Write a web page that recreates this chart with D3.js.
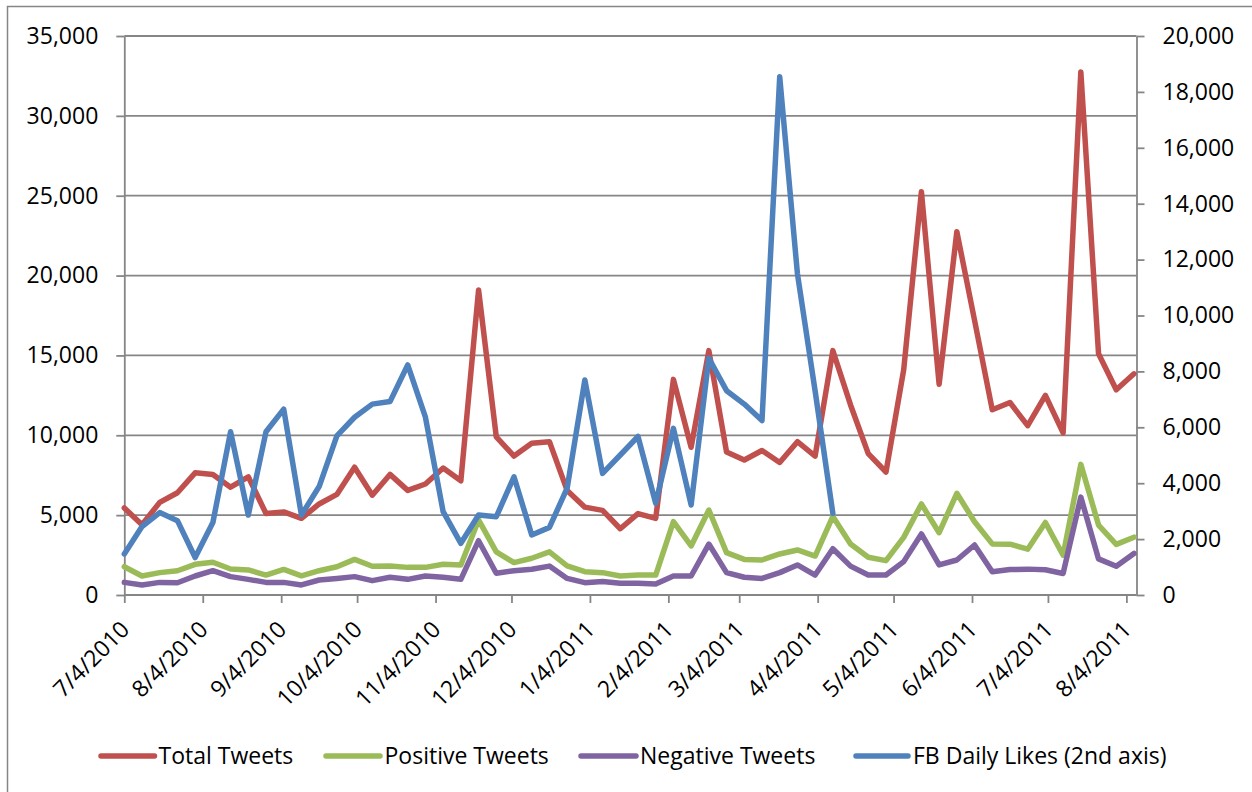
<!DOCTYPE html>
<html>
<head>
<meta charset="utf-8">
<script src="https://cdnjs.cloudflare.com/ajax/libs/d3/7.8.5/d3.min.js"></script>
<style>
  html, body { margin: 0; padding: 0; background: #ffffff; }
  svg { display: block; }
  text { font-family: "Open Sans", "Liberation Sans", sans-serif; fill: #000; }
</style>
</head>
<body>
<svg id="chart" width="1252" height="792"></svg>
<script>
// ---------------- DATA ----------------
const dates = [
  "7/4/2010","7/11/2010","7/18/2010","7/25/2010","8/1/2010","8/8/2010","8/15/2010","8/22/2010",
  "8/29/2010","9/5/2010","9/12/2010","9/19/2010","9/26/2010","10/3/2010","10/10/2010","10/17/2010",
  "10/24/2010","10/31/2010","11/7/2010","11/14/2010","11/21/2010","11/28/2010","12/5/2010","12/12/2010",
  "12/19/2010","12/26/2010","1/2/2011","1/9/2011","1/16/2011","1/23/2011","1/30/2011","2/6/2011",
  "2/13/2011","2/20/2011","2/27/2011","3/6/2011","3/13/2011","3/20/2011","3/27/2011","4/3/2011",
  "4/10/2011","4/17/2011","4/24/2011","5/1/2011","5/8/2011","5/15/2011","5/22/2011","5/29/2011",
  "6/5/2011","6/12/2011","6/19/2011","6/26/2011","7/3/2011","7/10/2011","7/17/2011","7/24/2011",
  "7/31/2011","8/7/2011"
];

const totalTweets = [
  5450, 4400, 5800, 6400, 7650, 7550, 6750, 7400, 5100, 5200,
  4800, 5700, 6300, 8000, 6250, 7550, 6550, 6950, 7950, 7150,
  19100, 9900, 8700, 9500, 9600, 6550, 5500, 5300, 4150, 5100,
  4800, 13500, 9250, 15300, 8950, 8450, 9050, 8300, 9600, 8700,
  15300, 11900, 8850, 7700, 14100, 25250, 13200, 22750, 17200, 11600,
  12050, 10600, 12500, 10150, 32750, 15100, 12850, 13850
];

const positiveTweets = [
  1770, 1190, 1400, 1520, 1920, 2050, 1630, 1570, 1250, 1600,
  1200, 1520, 1770, 2230, 1800, 1810, 1730, 1730, 1920, 1880,
  4700, 2700, 2030, 2300, 2700, 1820, 1460, 1400, 1190, 1250,
  1250, 4590, 3070, 5320, 2650, 2230, 2190, 2570, 2820, 2440,
  4920, 3190, 2360, 2150, 3610, 5700, 3900, 6370, 4590, 3200,
  3180, 2870, 4540, 2490, 8180, 4380, 3170, 3620
];

const negativeTweets = [
  790, 630, 790, 770, 1190, 1520, 1150, 980, 790, 790,
  630, 940, 1040, 1150, 900, 1110, 980, 1190, 1110, 980,
  3400, 1360, 1520, 1610, 1810, 1040, 770, 840, 730, 730,
  690, 1190, 1190, 3190, 1400, 1110, 1040, 1400, 1880, 1250,
  2900, 1810, 1250, 1250, 2090, 3820, 1880, 2190, 3130, 1460,
  1590, 1620, 1580, 1350, 6130, 2260, 1800, 2600
];

// secondary axis series (ends at 4/10/2011)
const fbDailyLikes = [
  1470, 2450, 2950, 2660, 1340, 2590, 5840, 2860, 5840, 6650,
  2860, 3880, 5690, 6360, 6830, 6920, 8230, 6360, 2980, 1850,
  2860, 2800, 4230, 2150, 2420, 3820, 7690, 4350, 5010, 5670,
  3280, 5960, 3220, 8470, 7310, 6830, 6240, 18540, 11500, 7300,
  2920
];

const xTickLabels = [
  "7/4/2010","8/4/2010","9/4/2010","10/4/2010","11/4/2010","12/4/2010","1/4/2011",
  "2/4/2011","3/4/2011","4/4/2011","5/4/2011","6/4/2011","7/4/2011","8/4/2011"
];
const leftTicks = [0, 5000, 10000, 15000, 20000, 25000, 30000, 35000];
const rightTicks = [0, 2000, 4000, 6000, 8000, 10000, 12000, 14000, 16000, 18000, 20000];

const seriesNames = ["Total Tweets", "Positive Tweets", "Negative Tweets", "FB Daily Likes (2nd axis)"];
const seriesColors = ["#C0504D", "#9BBB59", "#8064A2", "#4F81BD"];

// ---------------- LAYOUT ----------------
const parse = d3.timeParse("%m/%d/%Y");
const fmt = d3.timeFormat("%-m/%-d/%Y");
const plotLeft = 124.3, plotRight = 1136.5, plotTop = 36, plotBottom = 595;
const axisStart = "7/4/2010", axisEnd = "8/8/2011";
const gridColor = "#868686";
const fontSize = 23;

const svg = d3.select("#chart");

// outer border
svg.append("rect")
  .attr("x", 7.5).attr("y", 6.5).attr("width", 1400).attr("height", 900)
  .attr("fill", "none").attr("stroke", gridColor).attr("stroke-width", 1.5);

const x = d3.scaleTime().domain([parse(axisStart), parse(axisEnd)]).range([plotLeft, plotRight]);
const yL = d3.scaleLinear().domain([0, 35000]).range([plotBottom, plotTop]);
const yR = d3.scaleLinear().domain([0, 20000]).range([plotBottom, plotTop]);

// gridlines
svg.append("g").selectAll("line").data(leftTicks.filter(d => d > 0)).join("line")
  .attr("x1", plotLeft).attr("x2", plotRight)
  .attr("y1", d => yL(d)).attr("y2", d => yL(d))
  .attr("stroke", gridColor).attr("stroke-width", 1.8);

function styleAxis(g) {
  g.selectAll("path.domain").attr("stroke", gridColor).attr("stroke-width", 1.8);
  g.selectAll(".tick line").attr("stroke", gridColor).attr("stroke-width", 1.8);
  g.selectAll("text").attr("font-size", fontSize)
    .attr("font-family", "'Open Sans', 'Liberation Sans', sans-serif").attr("fill", "#000");
}

// left axis
const gLeft = svg.append("g").attr("transform", `translate(${plotLeft},0)`)
  .call(d3.axisLeft(yL).tickValues(leftTicks).tickSize(8).tickSizeOuter(0).tickPadding(18)
    .tickFormat(d3.format(",")));
styleAxis(gLeft);

// right axis
const gRight = svg.append("g").attr("transform", `translate(${plotRight},0)`)
  .call(d3.axisRight(yR).tickValues(rightTicks).tickSize(8).tickSizeOuter(0).tickPadding(18)
    .tickFormat(d3.format(",")));
styleAxis(gRight);

// bottom axis
const gBottom = svg.append("g").attr("transform", `translate(0,${plotBottom})`)
  .call(d3.axisBottom(x).tickValues(xTickLabels.map(parse)).tickSize(8).tickSizeOuter(0)
    .tickFormat(fmt));
styleAxis(gBottom);
gBottom.selectAll(".tick text")
  .attr("x", 0).attr("y", 0).attr("dy", 0)
  .attr("text-anchor", "end")
  .attr("transform", "translate(6,36) rotate(-45)");
gBottom.select("path.domain").attr("d", `M${plotLeft},0H${plotRight}`);

// lines
const seriesData = [totalTweets, positiveTweets, negativeTweets];
const lineL = d3.line().x((d, i) => x(parse(dates[i]))).y(d => yL(d));
const lineR = d3.line().x((d, i) => x(parse(dates[i]))).y(d => yR(d));

const gLines = svg.append("g");
seriesData.forEach((s, k) => {
  gLines.append("path").datum(s)
    .attr("d", lineL)
    .attr("fill", "none").attr("stroke", seriesColors[k]).attr("stroke-width", 5.5)
    .attr("stroke-linejoin", "round").attr("stroke-linecap", "round");
});
gLines.append("path").datum(fbDailyLikes)
  .attr("d", lineR)
  .attr("fill", "none").attr("stroke", seriesColors[3]).attr("stroke-width", 5.5)
  .attr("stroke-linejoin", "round").attr("stroke-linecap", "round");

// legend
const legendItems = [
  { x1: 101, x2: 154.5, tx: 158.5 },
  { x1: 326, x2: 380, tx: 384.5 },
  { x1: 581, x2: 636, tx: 640 },
  { x1: 856, x2: 908, tx: 913 }
];
const gLegend = svg.append("g");
legendItems.forEach((it, k) => {
  gLegend.append("line")
    .attr("x1", it.x1).attr("x2", it.x2).attr("y1", 756).attr("y2", 756)
    .attr("stroke", seriesColors[k]).attr("stroke-width", 5.5).attr("stroke-linecap", "round");
  gLegend.append("text")
    .attr("x", it.tx).attr("y", 764)
    .attr("font-size", fontSize)
    .text(seriesNames[k]);
});
</script>
</body>
</html>
